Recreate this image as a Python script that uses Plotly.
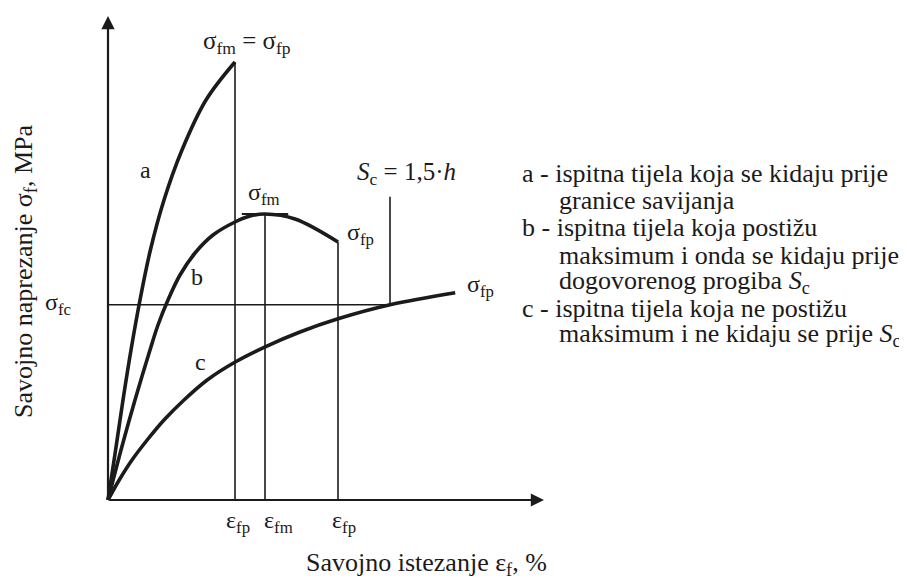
import plotly.graph_objects as go

# Schematic flexural stress-strain curves (strain in %, stress in MPa, arbitrary scale)
a_eps = [0, 0.19, 0.375, 0.575, 0.8, 1.06, 1.4, 1.85, 2.45, 3.175]
a_sig = [0, 12.5, 25, 37.5, 50, 62.5, 75, 87.5, 100, 109.5]
b_eps = [0, 0.325, 0.675, 1.05, 1.25, 1.5, 1.8, 2.175, 2.625, 3.175, 3.55, 3.925, 4.675, 5.75]
b_sig = [0, 12.5, 25, 37.5, 43.75, 50, 56.25, 61.75, 66.25, 69.5, 71, 71.5, 70.25, 64.5]
c_eps = [0, 0.28, 0.6, 0.98, 1.4, 1.9, 2.48, 3.18, 3.93, 4.8, 5.75, 7.05, 8.68]
c_sig = [0, 5, 10, 15, 20, 25, 30, 34.5, 38.3, 42, 45.3, 48.8, 51.8]

eps_fp_a, sig_fm_a = a_eps[-1], a_sig[-1]
eps_fm_b, sig_fm_b = 3.925, 71.5
eps_fp_b, sig_fp_b = b_eps[-1], b_sig[-1]
eps_Sc, sig_fc = 7.05, 48.8
sc_top = 75.8
x_end, y_end = 10.9, 121

x_tick_pos = [3.25, 4.25, 5.9]
x_tick_txt = ["ε<sub>fp</sub>", "ε<sub>fm</sub>", "ε<sub>fp</sub>"]

legend_lines = [
    ("a - ispitna tijela koja se kidaju prije", 0),
    ("granice savijanja", 1),
    ("b - ispitna tijela koja postižu", 0),
    ("maksimum i onda se kidaju prije", 1),
    ("dogovorenog progiba <i>S</i><sub>c</sub>", 1),
    ("c - ispitna tijela koja ne postižu", 0),
    ("maksimum i ne kidaju se prije <i>S</i><sub>c</sub>", 1),
]
legend_y = [81.75, 75, 68.25, 61.25, 54.5, 48, 41.25]

INK = "#1c1a1a"
FONT = "Liberation Serif"

fig = go.Figure()
for ex, sy in [(a_eps, a_sig), (b_eps, b_sig), (c_eps, c_sig)]:
    fig.add_trace(go.Scatter(x=ex, y=sy, mode="lines",
                             line=dict(color=INK, width=3.6, shape="spline", smoothing=1.0),
                             hoverinfo="skip"))

thin = [
    ([eps_fp_a, eps_fp_a], [0, sig_fm_a]),
    ([eps_fm_b, eps_fm_b], [0, sig_fm_b]),
    ([eps_fp_b, eps_fp_b], [0, sig_fp_b]),
    ([0, eps_Sc], [sig_fc, sig_fc]),
    ([eps_Sc, eps_Sc], [sig_fc, sc_top]),
]
for xs, ys in thin:
    fig.add_trace(go.Scatter(x=xs, y=ys, mode="lines",
                             line=dict(color=INK, width=1.6), hoverinfo="skip"))
# peak tick
fig.add_trace(go.Scatter(x=[eps_fm_b - 0.58, eps_fm_b + 0.58], y=[sig_fm_b, sig_fm_b],
                         mode="lines", line=dict(color=INK, width=2.2), hoverinfo="skip"))

ann = []
# axes with arrows
for (tx, ty) in [(x_end, 0), (0, y_end)]:
    ann.append(dict(x=tx, y=ty, ax=0, ay=0, xref="x", yref="y", axref="x", ayref="y",
                    text="", showarrow=True, arrowhead=2, arrowsize=1.2,
                    arrowwidth=2.2, arrowcolor=INK))

def txt(x, y, t, size=25, xanchor="center", yanchor="middle", angle=0):
    ann.append(dict(x=x, y=y, xref="x", yref="y", text=t, showarrow=False,
                    font=dict(family=FONT, size=size, color=INK),
                    xanchor=xanchor, yanchor=yanchor, textangle=angle))

txt(3.475, 114.5, "σ<sub>fm</sub> = σ<sub>fp</sub>")
txt(0.925, 82.5, "a", size=24)
txt(2.225, 55.75, "b", size=24)
txt(2.3, 34.5, "c", size=24)
txt(3.9, 76.5, "σ<sub>fm</sub>", size=24)
txt(5.92, 66.5, "σ<sub>fp</sub>", xanchor="left", size=24)
txt(8.92, 53.5, "σ<sub>fp</sub>", xanchor="left", size=24)
txt(7.45, 81.75, "<i>S</i><sub>c</sub> = 1,5·<i>h</i>")
txt(-1.25, 49, "σ<sub>fc</sub>", size=24)
for xp, t in zip(x_tick_pos, x_tick_txt):
    txt(xp, -5.5, t, size=24)
txt(7.95, -16.0, "Savojno istezanje ε<sub>f</sub>, %", size=26)
txt(-2.075, 57, "Savojno naprezanje σ<sub>f</sub>, MPa", size=26, angle=-90)

for (t, ind), yy in zip(legend_lines, legend_y):
    txt(10.3 + 0.925 * ind, yy, t, size=26, xanchor="left")

# page body has an 8px margin: figure area covers page pixels 8..907 / 8..579
fig.update_layout(
    width=899, height=571,
    margin=dict(l=0, r=0, t=0, b=0),
    paper_bgcolor="white", plot_bgcolor="white",
    showlegend=False,
    xaxis=dict(range=[-2.5, 19.975], visible=False, fixedrange=True),
    yaxis=dict(range=[-19.75, 123], visible=False, fixedrange=True),
    annotations=ann,
)
fig.write_html("out.html")
